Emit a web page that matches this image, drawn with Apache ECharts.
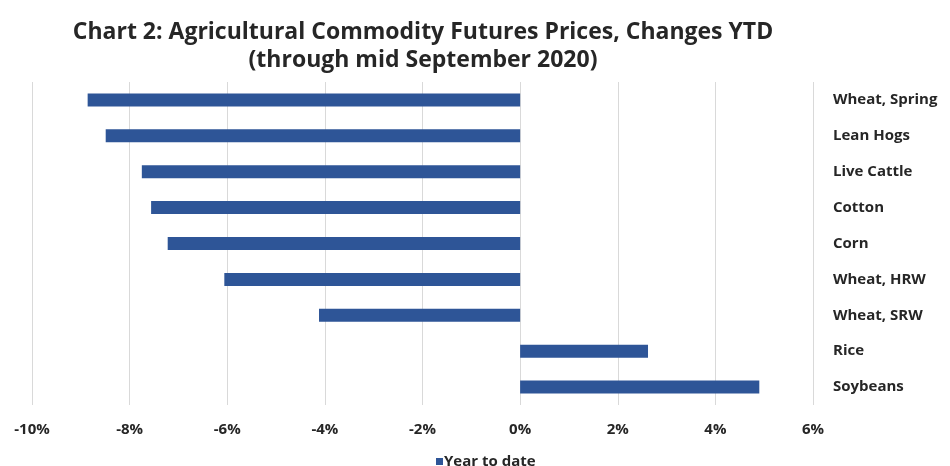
<!DOCTYPE html>
<html>
<head>
<meta charset="utf-8">
<script src="https://cdn.jsdelivr.net/npm/echarts@6/dist/echarts.min.js"></script>
<style>
  html, body { margin: 0; padding: 0; background: #ffffff; }
  #chart { width: 950px; height: 466px; }
</style>
</head>
<body>
<div id="chart"></div>
<script>
// Commodities, top to bottom as listed on the chart
const commodities = ['Wheat, Spring', 'Lean Hogs', 'Live Cattle', 'Cotton', 'Corn',
                     'Wheat, HRW', 'Wheat, SRW', 'Rice', 'Soybeans'];
// Year-to-date futures price change, percent
const ytdChange = [-8.86, -8.49, -7.75, -7.56, -7.22, -6.06, -4.12, 2.62, 4.90];
// Value axis ticks, percent
const xTicks = [-10, -8, -6, -4, -2, 0, 2, 4, 6];

const FONT = '"Open Sans", Lato, sans-serif';
const TEXT = '#262626';
const BAR = '#2E5597';

const chart = echarts.init(document.getElementById('chart'), null, { renderer: 'canvas' });

chart.setOption({
  animation: false,
  backgroundColor: '#ffffff',
  title: {
    text: 'Chart 2: Agricultural Commodity Futures Prices, Changes YTD\n(through mid September 2020)',
    left: 418,
    textAlign: 'center',
    top: 13,
    textStyle: {
      fontFamily: FONT,
      fontWeight: 'bold',
      fontSize: 23,
      lineHeight: 28,
      color: TEXT
    }
  },
  legend: {
    data: ['Year to date'],
    left: 431,
    top: 449,
    itemWidth: 7,
    itemHeight: 7,
    itemGap: 4,
    icon: 'rect',
    textStyle: { fontFamily: FONT, fontWeight: 'bold', fontSize: 15, color: TEXT, padding: [0, 0, 0, -4] }
  },
  grid: { left: 32, right: 137, top: 82, bottom: 61, containLabel: false },
  xAxis: {
    type: 'value',
    min: xTicks[0],
    max: xTicks[xTicks.length - 1],
    interval: 2,
    axisLine: { show: false },
    axisTick: { show: false },
    splitLine: { show: true, lineStyle: { color: '#d9d9d9', width: 1 } },
    axisLabel: {
      margin: 17,
      fontFamily: FONT,
      fontWeight: 'bold',
      fontSize: 15,
      color: TEXT,
      formatter: v => v + '%'
    }
  },
  yAxis: {
    type: 'category',
    data: commodities,
    inverse: true,
    position: 'right',
    axisLine: { show: false },
    axisTick: { show: false },
    splitLine: { show: false },
    axisLabel: {
      margin: 20,
      align: 'left',
      fontFamily: FONT,
      fontWeight: 'bold',
      fontSize: 15,
      color: TEXT
    }
  },
  series: [{
    name: 'Year to date',
    type: 'bar',
    data: ytdChange,
    barWidth: 13,
    itemStyle: { color: BAR },
    emphasis: { disabled: true }
  }]
});
</script>
</body>
</html>
